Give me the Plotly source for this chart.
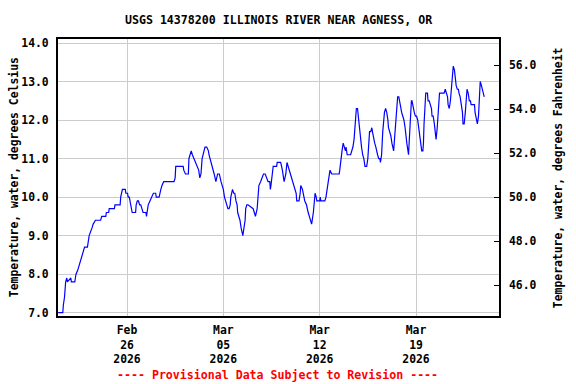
import pandas as pd
import plotly.graph_objects as go

START = "2026-02-21 00:00"

# hours since START, water temperature (deg C)
hours = [0, 8, 9, 11, 13, 15, 16, 22, 23, 29, 30, 31, 34, 38, 41, 44, 46, 51, 54, 59,
         61, 65, 74, 76, 83, 84, 88, 89, 98, 99, 108, 109, 112, 117, 118, 121, 122, 124, 125, 126,
         128, 129, 135, 136, 138, 140, 142, 144, 146, 148, 153, 154, 155, 157, 160, 163, 166, 170, 171, 176,
         177, 179, 181, 184, 202, 204, 205, 218, 219, 222, 227, 228, 230, 232, 234, 237, 240, 243, 245, 247,
         249, 251, 254, 256, 259, 262, 263, 265, 267, 269, 270, 272, 275, 276, 278, 281, 282, 284, 286, 288,
         290, 292, 294, 296, 298, 300, 301, 304, 306, 308, 310, 312, 313, 315, 317, 319, 320, 322, 324, 326,
         327, 329, 331, 340, 342, 344, 347, 349, 350, 353, 356, 358, 361, 363, 366, 369, 370, 371, 373, 375,
         381, 382, 388, 390, 391, 393, 394, 397, 398, 399, 401, 403, 405, 407, 410, 412, 413, 415, 416, 420,
         422, 423, 426, 428, 430, 433, 434, 436, 438, 440, 442, 445, 447, 448, 450, 451, 456, 457, 458, 465,
         467, 469, 470, 472, 474, 477, 490, 491, 493, 495, 497, 499, 501, 502, 504, 510, 512, 514, 516, 517,
         519, 520, 522, 524, 526, 527, 529, 531, 533, 535, 538, 540, 541, 543, 545, 547, 548, 550, 552, 554,
         555, 557, 559, 561, 562, 564, 566, 568, 569, 571, 573, 575, 576, 578, 580, 582, 583, 585, 587, 589,
         591, 592, 594, 596, 598, 599, 601, 603, 605, 606, 608, 610, 611, 612, 614, 616, 617, 619, 621, 623,
         625, 627, 629, 630, 632, 634, 636, 637, 638, 640, 641, 644, 645, 647, 649, 651, 652, 654, 656, 658,
         659, 661, 663, 665, 668, 670, 672, 673, 675, 677, 679, 680, 682, 684, 686, 687, 689, 691, 692, 694,
         696, 698, 699, 701, 703, 705, 706, 708, 710, 712, 713, 715, 717, 719, 720, 724, 726, 727, 729, 731,
         733, 734, 736, 738, 740, 741, 743]

temp_c = [7.0, 7.0, 7.2, 7.4, 7.8, 7.9, 7.8, 7.9, 7.8, 7.8, 7.9, 8.0, 8.1, 8.3, 8.4, 8.6, 8.7, 8.7, 9.0, 9.2,
          9.3, 9.4, 9.4, 9.5, 9.5, 9.6, 9.6, 9.7, 9.7, 9.8, 9.8, 10.0, 10.2, 10.2, 10.1, 10.1, 10.0, 10.0, 9.9, 9.8,
          9.7, 9.6, 9.6, 9.8, 9.9, 9.9, 9.8, 9.8, 9.7, 9.6, 9.6, 9.5, 9.6, 9.8, 9.9, 10.0, 10.1, 10.1, 10.0, 10.0,
          10.1, 10.2, 10.3, 10.4, 10.4, 10.5, 10.8, 10.8, 10.7, 10.6, 10.6, 11.0, 11.1, 11.2, 11.1, 11.0, 10.9, 10.8, 10.7, 10.5,
          10.6, 11.0, 11.2, 11.3, 11.3, 11.2, 11.1, 11.0, 10.9, 10.8, 10.7, 10.6, 10.4, 10.5, 10.6, 10.6, 10.5, 10.4, 10.3, 10.2,
          10.0, 9.9, 9.8, 9.7, 9.7, 9.8, 10.0, 10.2, 10.1, 10.1, 9.9, 9.8, 9.6, 9.5, 9.4, 9.2, 9.1, 9.0, 9.2, 9.4,
          9.7, 9.8, 9.8, 9.7, 9.6, 9.5, 9.7, 10.0, 10.3, 10.4, 10.5, 10.6, 10.6, 10.5, 10.4, 10.4, 10.2, 10.3, 10.6, 10.8,
          10.8, 10.9, 10.9, 10.8, 10.7, 10.5, 10.4, 10.6, 10.8, 10.9, 10.8, 10.7, 10.6, 10.5, 10.4, 10.3, 10.2, 10.1, 9.9, 9.9,
          10.1, 10.3, 10.2, 10.0, 9.9, 9.8, 9.7, 9.6, 9.5, 9.4, 9.3, 9.6, 9.9, 10.1, 10.0, 9.9, 9.9, 10.0, 9.9, 9.9,
          10.0, 10.2, 10.4, 10.6, 10.7, 10.6, 10.6, 10.7, 11.0, 11.2, 11.4, 11.3, 11.2, 11.3, 11.1, 11.1, 11.2, 11.3, 11.5, 11.7,
          12.1, 12.3, 12.3, 12.0, 11.7, 11.5, 11.3, 11.1, 11.0, 10.8, 10.8, 11.0, 11.3, 11.7, 11.7, 11.8, 11.7, 11.5, 11.4, 11.3,
          11.2, 11.1, 11.0, 11.0, 10.9, 11.1, 11.7, 12.1, 12.2, 12.3, 12.2, 12.0, 11.8, 11.7, 11.6, 11.4, 11.3, 11.2, 11.6, 12.0,
          12.5, 12.6, 12.6, 12.4, 12.3, 12.2, 12.1, 12.0, 11.8, 11.6, 11.4, 11.2, 11.1, 11.4, 12.2, 12.5, 12.5, 12.3, 12.2, 12.1,
          12.1, 12.0, 11.8, 11.6, 11.4, 11.2, 11.2, 11.4, 11.9, 12.4, 12.7, 12.7, 12.5, 12.5, 12.4, 12.3, 12.1, 12.1, 11.9, 11.7,
          11.5, 11.8, 12.4, 12.7, 12.7, 12.7, 12.7, 12.7, 12.8, 12.7, 12.6, 12.4, 12.3, 12.5, 12.8, 13.1, 13.4, 13.3, 13.1, 12.9,
          12.8, 12.8, 12.7, 12.6, 12.4, 12.2, 11.9, 11.9, 12.2, 12.7, 12.8, 12.7, 12.5, 12.5, 12.4, 12.4, 12.4, 12.2, 12.0, 11.9,
          12.1, 12.4, 13.0, 12.9, 12.8, 12.7, 12.6]

date_ticks = ["2026-02-26", "2026-03-05", "2026-03-12", "2026-03-19"]
date_labels = ["Feb<br>26<br>2026", "Mar<br>05<br>2026", "Mar<br>12<br>2026", "Mar<br>19<br>2026"]
c_ticks = [7.0, 8.0, 9.0, 10.0, 11.0, 12.0, 13.0, 14.0]
f_ticks = [46.0, 48.0, 50.0, 52.0, 54.0, 56.0]

times = pd.Timestamp(START) + pd.to_timedelta(hours, unit="h")

FONT = dict(family="DejaVu Sans Mono", size=11.4, color="black", weight="bold")

fig = go.Figure()
fig.add_trace(go.Scatter(x=times, y=temp_c, mode="lines",
                         line=dict(color="#0000FF", width=1.2),
                         showlegend=False, hoverinfo="x+y"))
fig.add_trace(go.Scatter(x=[times[0]], y=[None], yaxis="y2", mode="lines",
                         showlegend=False, hoverinfo="skip"))

fig.update_layout(
    width=576, height=384,
    margin=dict(l=58, r=77, t=39, b=68),
    paper_bgcolor="white", plot_bgcolor="white",
    font=FONT,
    title=dict(text="USGS 14378200 ILLINOIS RIVER NEAR AGNESS, OR",
               x=0.4836, xanchor="center", y=0.948, yanchor="middle",
               font=dict(family="DejaVu Sans Mono", size=11.6, color="black", weight="bold")),
    xaxis=dict(type="date", range=["2026-02-20 23:40", "2026-03-25 00:45"],
               tickvals=date_ticks, ticktext=date_labels,
               showgrid=True, gridcolor="#CCCCCC", gridwidth=1,
               showline=True, linecolor="black", linewidth=2, mirror=True,
               ticks="", zeroline=False, ticklabelstandoff=2),
    yaxis=dict(range=[6.914, 14.104], tickvals=c_ticks, tickformat=".1f",
               showgrid=True, gridcolor="#CCCCCC", gridwidth=1,
               showline=True, linecolor="black", linewidth=2, mirror=True,
               ticks="", zeroline=False, ticklabelstandoff=5),
    yaxis2=dict(overlaying="y", side="right", range=[44.602, 57.202],
                tickvals=f_ticks, tickformat=".1f", showgrid=False, zeroline=False,
                ticks="inside", ticklen=5, tickcolor="black", tickwidth=1,
                showline=False, ticklabelstandoff=9),
    annotations=[
        dict(text="Temperature, water, degrees Celsius", textangle=-90,
             xref="paper", yref="paper", x=-0.1005, y=0.5, showarrow=False,
             xanchor="center", yanchor="middle", font=FONT),
        dict(text="Temperature, water, degrees Fahrenheit", textangle=-90,
             xref="paper", yref="paper", x=1.133, y=0.5, showarrow=False,
             xanchor="center", yanchor="middle", font=FONT),
        dict(text="---- Provisional Data Subject to Revision ----",
             xref="paper", yref="paper", x=0.4966, y=-0.213, showarrow=False,
             xanchor="center", yanchor="middle",
             font=dict(family="DejaVu Sans Mono", size=11.6, color="#FF0000", weight="bold")),
    ],
)

fig.write_html("out.html",
               config={"displayModeBar": False},
               post_script="document.body.style.margin='0px';document.body.style.padding='0px';document.body.style.overflow='hidden';")
